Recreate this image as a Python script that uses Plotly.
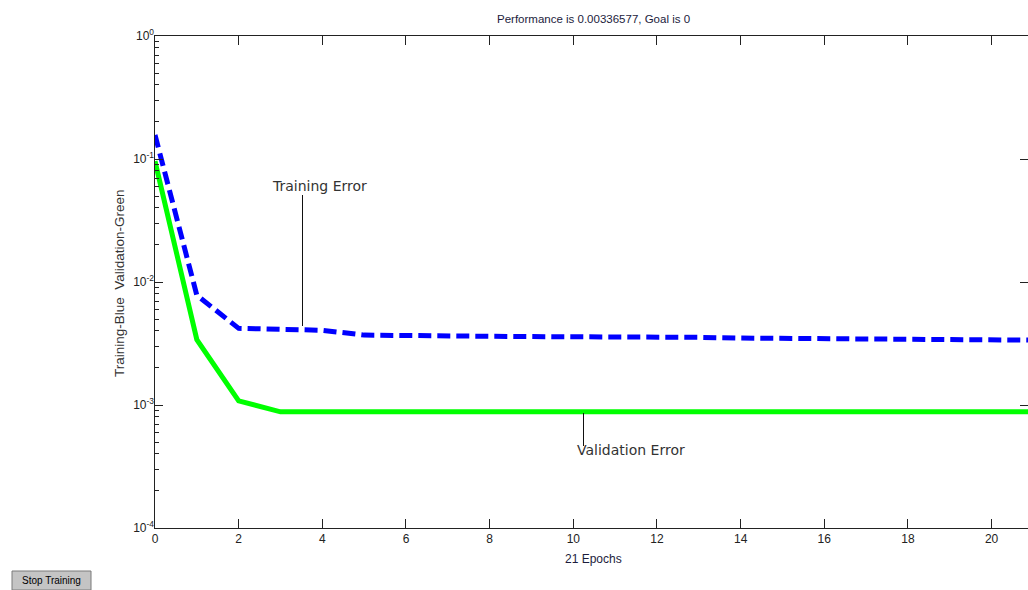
import plotly.graph_objects as go

# ---- data ----
epochs = list(range(22))
training_error = [0.157, 0.0078, 0.0042, 0.00413, 0.00405, 0.0037, 0.00365, 0.00363,
                  0.00362, 0.0036, 0.0036, 0.00358, 0.00356, 0.00355, 0.0035, 0.00349,
                  0.00347, 0.00344, 0.00342, 0.0034, 0.00338, 0.003366]
validation_error = [0.096, 0.0034, 0.00108, 0.00088, 0.00088, 0.00088, 0.00088, 0.00088,
                    0.00088, 0.00088, 0.00088, 0.00088, 0.00088, 0.00088, 0.00088, 0.00088,
                    0.00088, 0.00088, 0.00088, 0.00088, 0.00088, 0.00088]
x_ticks = list(range(0, 21, 2))
y_decades = [-4, -3, -2, -1, 0]
y_tick_text = ["10<sup>%d</sup>" % d for d in y_decades]
minor_mult = [2, 3, 4, 5, 6, 7, 8, 9]

title_text = "Performance is 0.00336577, Goal is 0"
x_title = "21 Epochs"
y_title = "Training-Blue  Validation-Green"

# ---- layout geometry (pixels) ----
W, H = 1028, 590
L, R, T, B = 155, 0, 36, 62
pw, ph = W - L - R, H - T - B


def px(xp):
    return (xp - L) / pw


def py(yp):
    return (H - B - yp) / ph


font_ui = "Liberation Sans, Arial, sans-serif"
font_ann = "DejaVu Sans, Verdana, sans-serif"
txt_col = "#1c1c3c"

fig = go.Figure()
fig.add_trace(go.Scatter(x=epochs, y=training_error, mode="lines",
                         line=dict(color="#0000ff", width=5, dash="13px,6px"),
                         showlegend=False, hoverinfo="skip", yaxis="y"))
fig.add_trace(go.Scatter(x=epochs, y=validation_error, mode="lines",
                         line=dict(color="#00ff00", width=5),
                         showlegend=False, hoverinfo="skip", yaxis="y2"))

minor_vals = [m * 10 ** d for d in y_decades[:-1] for m in minor_mult]

fig.update_layout(
    width=W, height=H,
    margin=dict(l=L, r=R, t=T, b=B),
    paper_bgcolor="white", plot_bgcolor="white",
    showlegend=False,
    xaxis=dict(range=[0, 20.87], tickvals=x_ticks, ticks="inside", ticklen=9,
               tickcolor="#222", showline=True, linecolor="#222", linewidth=1,
               mirror="ticks", showgrid=False, zeroline=False,
               tickfont=dict(family=font_ui, size=12, color="#222")),
    yaxis=dict(type="log", range=[-4, 0], tickvals=[10 ** d for d in y_decades],
               ticktext=y_tick_text, ticks="inside", ticklen=8, tickcolor="#222",
               showline=False, mirror="ticks",
               showgrid=False, zeroline=False,
               tickfont=dict(family=font_ui, size=12, color="#222")),
    yaxis2=dict(type="log", range=[-4, 0], overlaying="y", side="left",
                tickvals=minor_vals, ticks="inside", ticklen=4, tickcolor="#222",
                showticklabels=False, showline=True, linecolor="#222",
                linewidth=1, showgrid=False, zeroline=False),
)

def ann(text, x, y, size, color, family, **kw):
    d = dict(text=text, x=px(x), y=py(y), xref="paper", yref="paper",
             xanchor="center", yanchor="middle", showarrow=False,
             font=dict(family=family, size=size, color=color))
    d.update(kw)
    return d


annotations = [
    ann(title_text, 593, 19, 11.5, txt_col, font_ui),
    ann(x_title, 593, 559, 12, txt_col, font_ui),
    ann(y_title, 119, 283, 13.5, "#333", font_ui, textangle=-90),
    ann("Training Error", 319, 186, 14, "#333", font_ann),
    ann("Validation Error", 575, 450, 14, "#333", font_ann, xanchor="left"),
    ann("Stop Training", 51, 580, 10, "#000", font_ui),
]
fig.update_layout(annotations=annotations)

shapes = [
    dict(type="line", xref="paper", yref="paper", x0=px(302.5), x1=px(302.5),
         y0=py(195), y1=py(326), line=dict(color="#111", width=1)),
    dict(type="line", xref="paper", yref="paper", x0=px(583.5), x1=px(583.5),
         y0=py(413), y1=py(446), line=dict(color="#111", width=1)),
    dict(type="rect", xref="paper", yref="paper", x0=px(12), x1=px(91),
         y0=py(571), y1=py(590), fillcolor="#c4c4c4",
         line=dict(color="#7a7a7a", width=1)),
]
fig.update_layout(shapes=shapes)

fig.write_html("out.html")
